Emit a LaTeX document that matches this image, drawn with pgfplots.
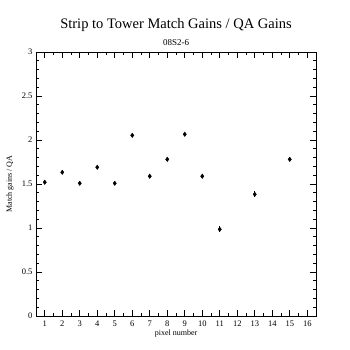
\documentclass[border=0pt]{standalone}
\usepackage{pgfplots}
\pgfplotsset{compat=1.18}
\usepackage{fontspec}
\setmainfont{Liberation Serif}
\begin{document}
\begin{tikzpicture}[x=1pt,y=1pt]
\useasboundingbox (-36,-34) rectangle (314,316);
\begin{axis}[
  at={(0,0)}, anchor=south west,
  scale only axis, width=280pt, height=264pt,
  xmin=0.5, xmax=16.5, ymin=0, ymax=3,
  xtick={1,...,16}, minor x tick num=1,
  ytick={0,0.5,...,3}, minor y tick num=4,
  yticklabels={0,0.5,1,1.5,2,2.5,3},
  tick align=inside,
  major tick length=6pt, minor tick length=3pt,
  tick style={black, line width=0.6pt},
  axis line style={line width=0.8pt},
  ticklabel style={font=\fontsize{8.5}{10}\selectfont},
  /pgf/number format/assume math mode=true,
  xticklabel style={yshift=-1pt},
]
\addplot[only marks, mark=diamond*, mark size=2.2pt, black,
  error bars/.cd, y dir=both, y explicit, error mark=none,
  error bar style={line width=0.8pt}]
coordinates {
(1,1.52) +- (0,0.02)
(2,1.633) +- (0,0.02)
(3,1.508) +- (0,0.02)
(4,1.69) +- (0,0.02)
(5,1.508) +- (0,0.02)
(6,2.053) +- (0,0.02)
(7,1.588) +- (0,0.02)
(8,1.78) +- (0,0.02)
(9,2.065) +- (0,0.02)
(10,1.588) +- (0,0.02)
(11,0.985) +- (0,0.035)
(13,1.383) +- (0,0.035)
(15,1.78) +- (0,0.02)
};
\end{axis}
\node[font=\fontsize{14.5}{16}\selectfont] at (140,291) {Strip to Tower Match Gains / QA Gains};
\node[font=\fontsize{9}{10}\selectfont] at (140,273) {08S2-6};
\node[font=\fontsize{8}{9}\selectfont] at (140,-18) {pixel number};
\node[font=\fontsize{8}{9}\selectfont, rotate=90] at (-26,132) {Match gains / QA};
\end{tikzpicture}
\end{document}
